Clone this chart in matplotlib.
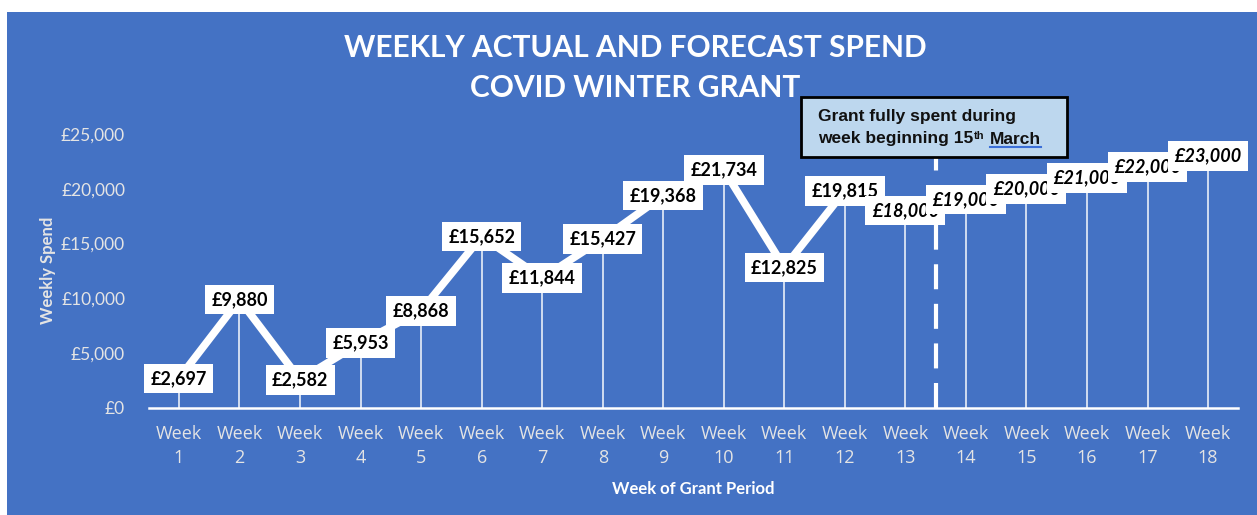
import matplotlib
matplotlib.use("Agg")
import matplotlib.pyplot as plt
from matplotlib.patches import Rectangle
from matplotlib.lines import Line2D

weeks = list(range(1, 19))
week_labels = [f"Week\n{w}" for w in weeks]
actual_weeks = list(range(1, 13))
actual_spend = [2697, 9880, 2582, 5953, 8868, 15652, 11844, 15427, 19368, 21734, 12825, 19815]
forecast_weeks = list(range(13, 19))
forecast_spend = [18000, 19000, 20000, 21000, 22000, 23000]
y_ticks = [0, 5000, 10000, 15000, 20000, 25000]
y_tick_labels = ["£0", "£5,000", "£10,000", "£15,000", "£20,000", "£25,000"]

W, H = 1257, 515
BLUE = "#4472C4"
LIGHT = "#E4E4E4"

fig = plt.figure(figsize=(W / 100, H / 100), dpi=100)
fig.patch.set_facecolor("white")
fig.patches.append(Rectangle((7 / W, 0), 1 - 7 / W, (H - 12) / H, transform=fig.transFigure,
                             facecolor=BLUE, edgecolor="none", zorder=-10))

ax = fig.add_axes([148.7 / W, 107 / H, (1238.3 - 148.7) / W, 307 / H])
ax.set_facecolor("none")
ax.set_xlim(0.5, 18.5)
ax.set_ylim(0, 28000)

all_weeks = actual_weeks + forecast_weeks
all_spend = actual_spend + forecast_spend

# drop lines
ax.vlines(all_weeks, 0, all_spend, colors="white", lw=1.4, alpha=0.75, zorder=2)
# main line
ax.plot(all_weeks, all_spend, color="white", lw=5.5, solid_capstyle="butt", zorder=3)

# dashed divider
ax.plot([13.5, 13.5], [0, 28000], color="white", lw=3, dashes=(6, 3.5), zorder=4)

# data labels
for i, (w, v) in enumerate(zip(all_weeks, all_spend)):
    forecast = w in forecast_weeks
    ax.text(w, v, f"£{v:,}", ha="center", va="center", fontsize=13, fontweight="bold",
            fontstyle="italic" if forecast else "normal", family="Lato", color="black",
            bbox=dict(boxstyle="square,pad=0.35", facecolor="white", edgecolor="none"),
            zorder=10 + i)

# axes styling
for s in ["top", "right", "left"]:
    ax.spines[s].set_visible(False)
ax.spines["bottom"].set_color("white")
ax.spines["bottom"].set_linewidth(1.8)
ax.set_xticks(weeks)
ax.set_xticklabels(week_labels, fontsize=13, family="Open Sans", color=LIGHT, linespacing=1.45)
ax.set_yticks(y_ticks)
ax.set_yticklabels(y_tick_labels, fontsize=12.5, family="Lato", color=LIGHT)
ax.tick_params(axis="both", length=0)
ax.tick_params(axis="y", pad=17)
ax.tick_params(axis="x", pad=12)

# titles and labels
fig.text(635 / W, 1 - 48 / H, "WEEKLY ACTUAL AND FORECAST SPEND", ha="center", va="center",
         fontsize=21.5, fontweight="bold", family="Lato", color="white")
fig.text(635 / W, 1 - 88 / H, "COVID WINTER GRANT", ha="center", va="center",
         fontsize=21.5, fontweight="bold", family="Lato", color="white")
fig.text(48 / W, 1 - 270 / H, "Weekly Spend", ha="center", va="center", rotation=90,
         fontsize=12, fontweight="bold", family="Lato", color=LIGHT)
fig.text(693 / W, 1 - 489 / H, "Week of Grant Period", ha="center", va="center",
         fontsize=12, fontweight="bold", family="Lato", color="white")

# annotation box
fig.patches.append(Rectangle((801 / W, 1 - 157 / H), (1067 - 801) / W, 60 / H,
                             transform=fig.transFigure, facecolor="#BDD7EE",
                             edgecolor="black", lw=2, zorder=50))
fs = 12.5
fam = ["Liberation Sans", "DejaVu Sans"]
t1 = fig.text(818 / W, 1 - 116 / H, "Grant fully spent during", ha="left", va="center",
              fontsize=fs, fontweight="bold", family=fam, color="#111111", zorder=51)
t2 = fig.text(818 / W, 1 - 139 / H, "week beginning 15", ha="left", va="center",
              fontsize=fs, fontweight="bold", family=fam, color="#111111", zorder=51)
fig.canvas.draw()
r = fig.canvas.get_renderer()
bb = t2.get_window_extent(r)
t3 = fig.text((bb.x1 + 1) / W, (bb.y0 + bb.height * 0.72) / H, "th", ha="left", va="center",
              fontsize=8, fontweight="bold", family=fam, color="#111111", zorder=51)
bb3 = t3.get_window_extent(r)
t4 = fig.text((bb3.x1 + 5) / W, 1 - 139 / H, "March", ha="left", va="center",
              fontsize=fs, fontweight="bold", family=fam, color="#111111", zorder=51)
bb4 = t4.get_window_extent(r)
fig.lines.append(Line2D([bb4.x0 / W, bb4.x1 / W], [(bb4.y0 - 0.5) / H] * 2,
                        transform=fig.transFigure, color="#3B6FD8", lw=1.5, zorder=52))

fig.savefig("out.png", dpi=100, facecolor=fig.get_facecolor())
